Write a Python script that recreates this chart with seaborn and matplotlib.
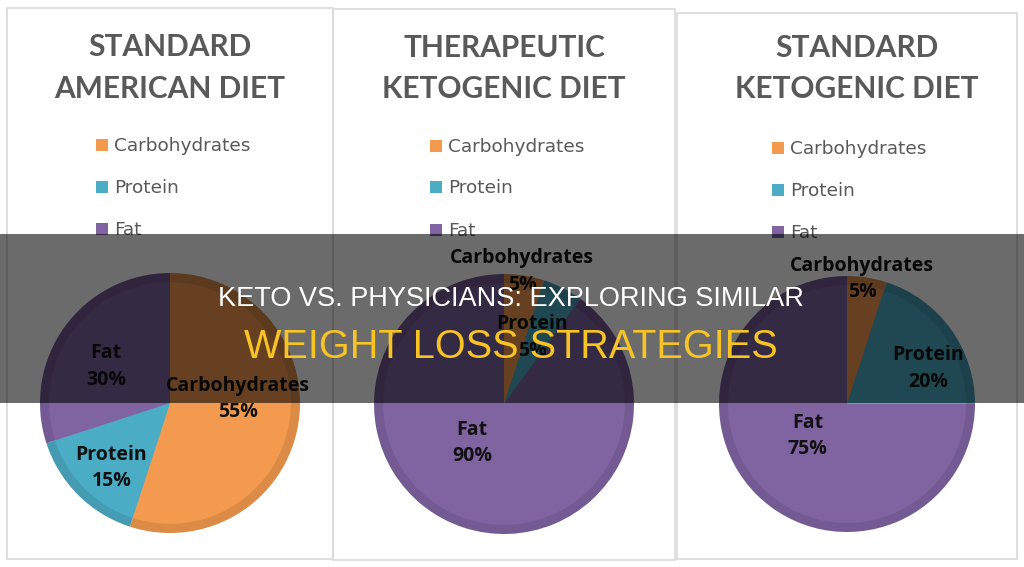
import matplotlib
matplotlib.use("Agg")
import matplotlib.pyplot as plt
import numpy as np
import seaborn as sns
from matplotlib.patches import Rectangle

# --- data -------------------------------------------------------------
DIET_TITLES = [("STANDARD", "AMERICAN DIET"),
               ("THERAPEUTIC", "KETOGENIC DIET"),
               ("STANDARD", "KETOGENIC DIET")]
MACROS = ["Carbohydrates", "Protein", "Fat"]
CARBS = [55, 5, 5]
PROTEIN = [15, 5, 20]
FAT = [30, 90, 75]
HEADLINE = "KETO VS. PHYSICIANS: EXPLORING SIMILAR"
SUBLINE = "WEIGHT LOSS STRATEGIES"

# --- layout (pixels on the 1024x567 canvas) ---------------------------
W, H = 1024, 567
PANELS = [(7, 8, 333, 559), (333, 9, 675, 560), (677, 13, 1017, 559)]
PIE_CENTER = [(170, 403), (504, 404), (847, 404)]
PIE_R = [130, 130, 128]
TITLE_X = [170, 504, 857]
TITLE_BASE = [(56, 98), (57, 98), (57, 98)]
LEG_X = [96, 430, 772]
LEG_Y = [(145, 187, 229), (146, 187, 230), (148, 190, 232)]
# data label anchors in pie-radius units (Excel "best fit" spots)
LABEL_POS = [
    [(0.52, 0.03), (-0.45, -0.50), (-0.49, 0.28)],
    [(0.14, 1.02), (0.215, 0.51), (-0.246, -0.30)],
    [(0.117, 0.977), (0.633, 0.277), (-0.31, -0.25)],
]

sns.set_theme(style="white")
plt.rcParams["font.family"] = ["Open Sans", "DejaVu Sans"]

palette = sns.color_palette(["#F39A4E", "#4BACC6", "#8064A2"])
bevel = [tuple(np.array(c) * 0.9) for c in palette]
GREY = "#595959"

fig = plt.figure(figsize=(W / 100, H / 100), dpi=100, facecolor="white")

# background: chart frames, titles, legends
bg = fig.add_axes([0, 0, 1, 1])
bg.set_xlim(0, W)
bg.set_ylim(H, 0)
bg.axis("off")

for i in range(3):
    x0, y0, x1, y1 = PANELS[i]
    bg.add_patch(Rectangle((x0, y0), x1 - x0, y1 - y0, fill=False,
                           ec="#d9d9d9", lw=1.2))
    for line, yb in zip(DIET_TITLES[i], TITLE_BASE[i]):
        bg.text(TITLE_X[i], yb, line, ha="center", va="baseline",
                fontsize=21.5, fontweight="bold", color=GREY,
                family=["Lato", "DejaVu Sans"])
    for j, name in enumerate(MACROS):
        y = LEG_Y[i][j]
        bg.add_patch(Rectangle((LEG_X[i], y - 6), 12, 12,
                               color=palette[j], lw=0))
        bg.text(LEG_X[i] + 18, y + 6, name, ha="left", va="baseline",
                fontsize=13.3, color=GREY, family=["DejaVu Sans"])

# pies
shares = list(zip(CARBS, PROTEIN, FAT))
for i in range(3):
    cx, cy = PIE_CENTER[i]
    r = PIE_R[i]
    ax = fig.add_axes([(cx - r) / W, 1 - (cy + r) / H, 2 * r / W, 2 * r / H])
    ax.pie(shares[i], colors=bevel, startangle=90, counterclock=False,
           radius=1, wedgeprops=dict(lw=0))
    ax.pie(shares[i], colors=palette, startangle=90, counterclock=False,
           radius=0.93, wedgeprops=dict(lw=0))
    ax.set_xlim(-1, 1)
    ax.set_ylim(-1, 1)
    ax.set_aspect("equal")
    ax.axis("off")
    for j, name in enumerate(MACROS):
        dx, dy = LABEL_POS[i][j]
        ax.text(dx, dy, f"{name}\n{shares[i][j]}%", ha="center", va="center",
                fontsize=14, fontweight="bold", color="#111111",
                linespacing=1.45, family=["Open Sans", "DejaVu Sans"])

# dark headline banner on top
ov = fig.add_axes([0, 0, 1, 1], zorder=10)
ov.set_xlim(0, W)
ov.set_ylim(H, 0)
ov.axis("off")
ov.add_patch(Rectangle((0, 234), W, 169, color="black", alpha=0.58, lw=0))
ov.text(511, 306, HEADLINE, ha="center", va="baseline", color="white",
        fontsize=19.5, family=["Liberation Sans", "DejaVu Sans"])
ov.text(511, 358, SUBLINE, ha="center", va="baseline", color="#F7C325",
        fontsize=28.5, family=["Liberation Sans", "DejaVu Sans"])

fig.savefig("out.png", dpi=100, facecolor="white")
